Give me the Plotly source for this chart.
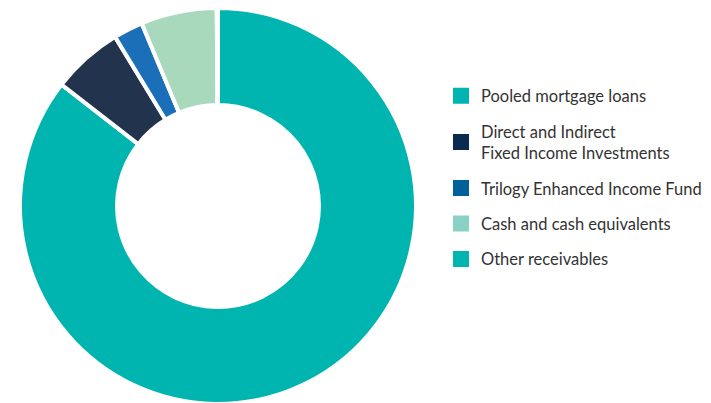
import plotly.graph_objects as go

labels = ["Pooled mortgage loans", "Direct and Indirect<br>Fixed Income Investments",
          "Trilogy Enhanced Income Fund", "Cash and cash equivalents", "Other receivables"]
values = [85.5, 5.8, 2.4, 6.2, 0.1]
slice_colors = ["#00b5b0", "#22334e", "#1b6fb8", "#a8d9bd", "#00b5b0"]
legend_colors = ["#00b5b0", "#0a2a50", "#006099", "#8ad0c4", "#00b5b0"]

fig = go.Figure()
fig.add_trace(go.Pie(
    labels=labels, values=values, hole=0.51, sort=False, direction="clockwise",
    rotation=0, marker=dict(colors=slice_colors, line=dict(color="white", width=4)),
    textinfo="none", hoverinfo="label+percent", showlegend=False,
    domain=dict(x=[0.01688, 0.5738], y=[0.0174, 1.0]),
))
for i, (lab, col) in enumerate(zip(labels, legend_colors)):
    fig.add_trace(go.Scatter(
        x=[None], y=[None], mode="markers", name=lab, legendgroup=f"g{i}",
        marker=dict(symbol="square", size=16, color=col), showlegend=True,
    ))

fig.update_layout(
    width=711, height=403, margin=dict(l=0, r=0, t=0, b=0),
    paper_bgcolor="white", plot_bgcolor="white",
    xaxis=dict(visible=False), yaxis=dict(visible=False),
    font=dict(family="Lato", size=16.5, color="#333333"),
    legend=dict(x=0.609, y=0.825, xanchor="left", yanchor="top",
                tracegroupgap=11, bgcolor="rgba(0,0,0,0)"),
)
fig.write_html("out.html")
